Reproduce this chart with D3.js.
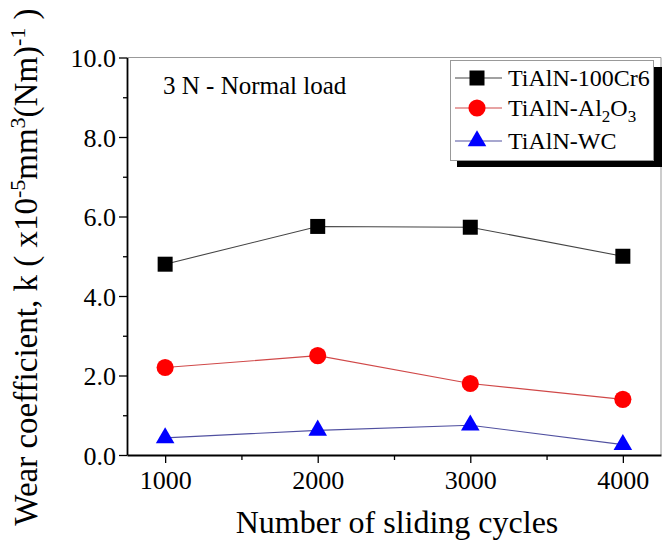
<!DOCTYPE html>
<meta charset="utf-8">
<style>
body { margin: 0; background: #fff; }
svg { display: block; }
svg text { font-family: "Liberation Serif", "Times New Roman", "DejaVu Serif", serif; }
</style>
<script src="https://d3js.org/d3.v7.min.js"></script>
<body>
<svg id="chart" width="672" height="545"></svg>
<script>
// data
var cycles = [1000, 2000, 3000, 4000];
var cr6 = [4.8, 5.75, 5.73, 5.0];
var al2o3 = [2.2, 2.5, 1.8, 1.4];
var wc = [0.43, 0.62, 0.75, 0.26];
var yTicks = [0, 2, 4, 6, 8, 10];
var xTicks = [1000, 2000, 3000, 4000];

var serif = "Liberation Serif, Times New Roman, serif";

var series = [
  {name: "cr6", values: cr6, fill: "#000", line: "#444", shape: d3.symbolSquare, size: 225},
  {name: "al2o3", values: al2o3, fill: "#ff0000", line: "#d04848", shape: d3.symbolCircle, size: 230},
  {name: "wc", values: wc, fill: "#0000ff", line: "#5050a0", shape: d3.symbolTriangle, size: 150}
];

var svg = d3.select("#chart");

var x = d3.scaleLinear().domain([750, 4250]).range([127, 661]);
var y = d3.scaleLinear().domain([0, 10]).range([455, 57.5]);

// frame: top and right in light gray
svg.append("path")
  .attr("d", "M" + x(750) + "," + y(10) + "H" + x(4250) + "V" + y(0))
  .attr("fill", "none")
  .attr("stroke", "#999")
  .attr("stroke-width", 1);

// minor ticks
var yAxisMinor = d3.axisLeft(y).tickValues([1, 3, 5, 7, 9]).tickSize(4).tickFormat("");
var xAxisMinor = d3.axisBottom(x).tickValues([1500, 2500, 3500]).tickSize(5).tickFormat("");

var gy2 = svg.append("g").attr("transform", "translate(" + x(750) + ",0)").call(yAxisMinor);
var gx2 = svg.append("g").attr("transform", "translate(0," + y(0) + ")").call(xAxisMinor);
[gy2, gx2].forEach(function(g) {
  g.select(".domain").remove();
  g.selectAll("line").attr("stroke", "#000").attr("stroke-width", 1.3);
});

var yAxis = d3.axisLeft(y).tickValues(yTicks).tickSize(8).tickSizeOuter(0).tickPadding(3)
  .tickFormat(d3.format(".1f"));
var xAxis = d3.axisBottom(x).tickValues(xTicks).tickSize(8).tickSizeOuter(0).tickPadding(6)
  .tickFormat(d3.format("d"));

var gy = svg.append("g").attr("transform", "translate(" + x(750) + ",0)").call(yAxis);
var gx = svg.append("g").attr("transform", "translate(0," + y(0) + ")").call(xAxis);
[gy, gx].forEach(function(g) {
  g.attr("font-family", serif).attr("font-size", 26);
  g.select(".domain").attr("stroke", "#000").attr("stroke-width", 1.8);
  g.selectAll("line").attr("stroke", "#000").attr("stroke-width", 1.3);
  g.selectAll("text").attr("fill", "#000");
});
gy.selectAll("text").attr("dy", "0.35em");
gx.selectAll("text").attr("dy", "0.75em");

// series lines and markers
var line = d3.line()
  .x(function(d, i) { return x(cycles[i]); })
  .y(function(d) { return y(d); });

series.forEach(function(s) {
  svg.append("path")
    .attr("d", line(s.values))
    .attr("fill", "none")
    .attr("stroke", s.line)
    .attr("stroke-width", 1.1);
});
series.forEach(function(s) {
  svg.append("g").selectAll("path")
    .data(s.values)
    .enter().append("path")
      .attr("d", d3.symbol().type(s.shape).size(s.size))
      .attr("transform", function(d, i) { return "translate(" + x(cycles[i]) + "," + y(d) + ")"; })
      .attr("fill", s.fill);
});

// annotation
svg.append("text")
  .attr("x", 163).attr("y", 94)
  .attr("font-family", serif).attr("font-size", 25)
  .text("3 N - Normal load");

// legend
var lg = svg.append("g").attr("font-family", serif).attr("font-size", 24);
lg.append("rect").attr("x", 457).attr("y", 67).attr("width", 205).attr("height", 100).attr("fill", "#000");
lg.append("rect").attr("x", 450.5).attr("y", 60.5).attr("width", 203).attr("height", 100)
  .attr("fill", "#fff").attr("stroke", "#999").attr("stroke-width", 1);

var legendRows = [78, 108, 141];
series.forEach(function(s, i) {
  var ly = legendRows[i];
  lg.append("line").attr("x1", 455).attr("x2", 502).attr("y1", ly).attr("y2", ly)
    .attr("stroke", s.line).attr("stroke-width", 1.1);
  lg.append("path")
    .attr("d", d3.symbol().type(s.shape).size(s.size))
    .attr("transform", "translate(477," + ly + ")")
    .attr("fill", s.fill);
});

lg.append("text").attr("x", 508).attr("y", 86).text("TiAlN-100Cr6");
var t2 = lg.append("text").attr("x", 508).attr("y", 116);
t2.append("tspan").text("TiAlN-Al");
t2.append("tspan").attr("dy", 6).attr("font-size", 17).text("2");
t2.append("tspan").attr("dy", -6).text("O");
t2.append("tspan").attr("dy", 6).attr("font-size", 17).text("3");
lg.append("text").attr("x", 508).attr("y", 149).text("TiAlN-WC");

// axis titles
svg.append("text")
  .attr("x", 397).attr("y", 533)
  .attr("text-anchor", "middle")
  .attr("font-family", serif).attr("font-size", 32)
  .text("Number of sliding cycles");

var yt = svg.append("text")
  .attr("transform", "translate(37,267) rotate(-90)")
  .attr("text-anchor", "middle")
  .attr("font-family", serif).attr("font-size", 33);
yt.append("tspan").text("Wear coefficient, k ( x10");
yt.append("tspan").attr("dy", -12).attr("font-size", 22).text("-5");
yt.append("tspan").attr("dy", 12).text("mm");
yt.append("tspan").attr("dy", -12).attr("font-size", 22).text("3");
yt.append("tspan").attr("dy", 12).text("(Nm)");
yt.append("tspan").attr("dy", -12).attr("font-size", 22).text("-1");
yt.append("tspan").attr("dy", 12).text(" )");
</script>
</body>
